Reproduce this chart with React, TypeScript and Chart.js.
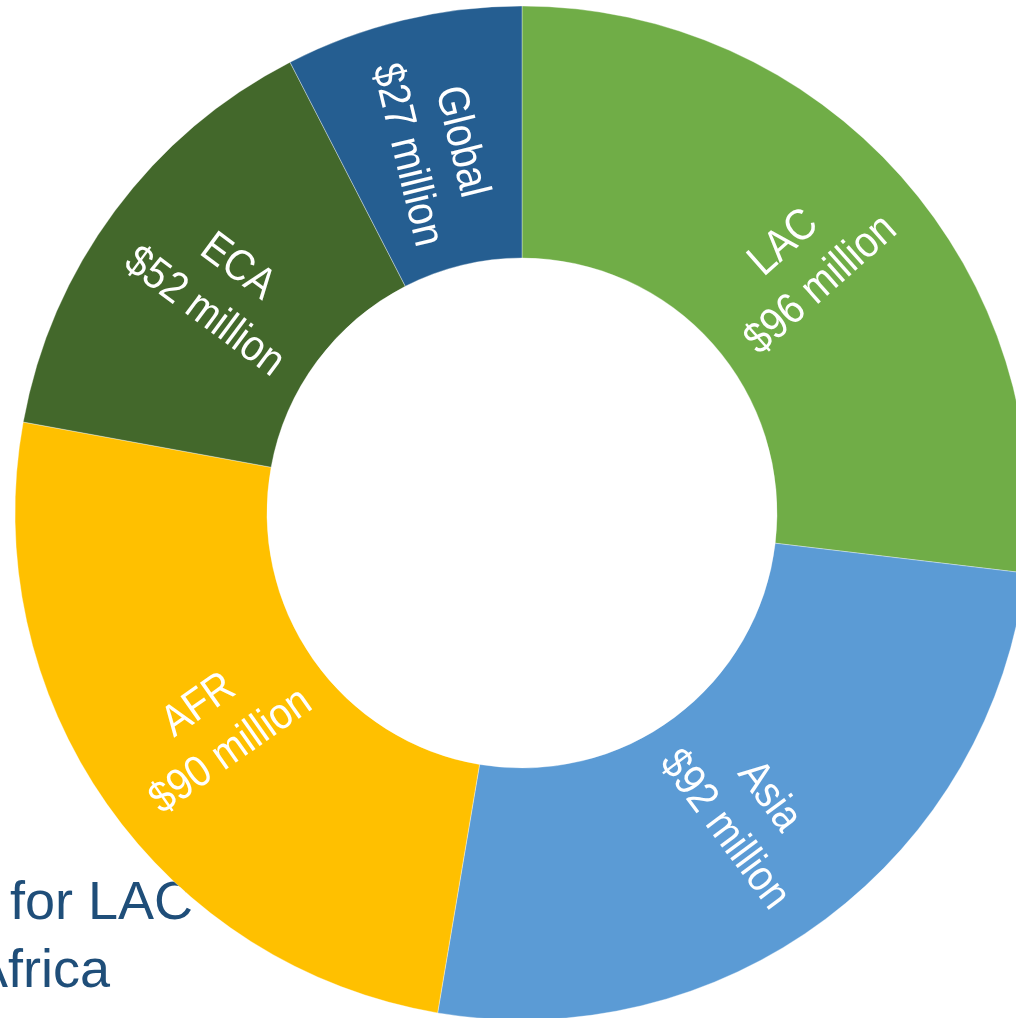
import React, { useEffect, useRef } from 'react';
import { Chart, registerables } from 'chart.js';

Chart.register(...registerables);

const regions: string[] = ['LAC', 'Asia', 'AFR', 'ECA', 'Global'];
const amounts: number[] = [96, 92, 90, 52, 27];
const amountUnit = 'million';
const sliceColors: string[] = ['#70AD47', '#5B9BD5', '#FFC000', '#43682B', '#255E91'];
const sideTextLines: string[] = ['for LAC', 'Africa'];

const LABEL_FONT = '44px "Liberation Sans", Arial, sans-serif';
const LABEL_X_SCALE = 0.885;
const LINE_GAP = 56;

const labelPlugin = {
  id: 'radialLabels',
  afterDatasetsDraw(chart: any) {
    const ctx: CanvasRenderingContext2D = chart.ctx;
    const meta = chart.getDatasetMeta(0);
    meta.data.forEach((arc: any, i: number) => {
      const p = arc.getProps(['startAngle', 'endAngle', 'x', 'y', 'innerRadius', 'outerRadius'], true);
      const mid = (p.startAngle + p.endAngle) / 2;
      const r = (p.innerRadius + p.outerRadius) / 2 - 6;
      const cx = p.x + Math.cos(mid) * r;
      const cy = p.y + Math.sin(mid) * r;
      let rot = mid;
      if (Math.cos(mid) < 0) rot = mid + Math.PI;
      ctx.save();
      ctx.translate(cx, cy);
      ctx.rotate(rot);
      ctx.scale(LABEL_X_SCALE, 1);
      ctx.fillStyle = '#FFFFFF';
      ctx.font = LABEL_FONT;
      ctx.textAlign = 'center';
      ctx.textBaseline = 'middle';
      ctx.fillText(regions[i], 0, -LINE_GAP / 2);
      ctx.fillText(`$${amounts[i]} ${amountUnit}`, 0, LINE_GAP / 2);
      ctx.restore();
    });
  },
};

export default function App() {
  const canvasRef = useRef<HTMLCanvasElement | null>(null);

  useEffect(() => {
    if (!canvasRef.current) return;
    const chart = new Chart(canvasRef.current, {
      type: 'doughnut',
      data: {
        labels: regions,
        datasets: [
          {
            data: amounts,
            backgroundColor: sliceColors,
            borderColor: 'rgba(255,255,255,0.35)',
            borderWidth: 1,
          },
        ],
      },
      options: {
        responsive: false,
        animation: false,
        radius: 507,
        cutout: '50.3%',
        layout: { padding: 0 },
        plugins: {
          legend: { display: false },
          tooltip: { enabled: false },
        },
      },
      plugins: [labelPlugin],
    });
    return () => chart.destroy();
  }, []);

  const textStyle: React.CSSProperties = {
    position: 'absolute',
    fontFamily: '"Liberation Sans", Arial, sans-serif',
    fontSize: 54,
    lineHeight: '68px',
    color: '#1F4E79',
    whiteSpace: 'nowrap',
    textAlign: 'right',
    width: 500,
  };

  return (
    <div
      style={{
        position: 'fixed',
        left: 0,
        top: 0,
        width: 1016,
        height: 1018,
        overflow: 'hidden',
        background: '#FFFFFF',
      }}
    >
      <div style={{ ...textStyle, left: 193 - 500, top: 866 }}>{sideTextLines[0]}</div>
      <div style={{ ...textStyle, left: 110 - 500, top: 934 }}>{sideTextLines[1]}</div>
      <canvas
        ref={canvasRef}
        width={1100}
        height={1100}
        style={{ position: 'absolute', left: -28, top: -37, width: 1100, height: 1100 }}
      />
    </div>
  );
}
